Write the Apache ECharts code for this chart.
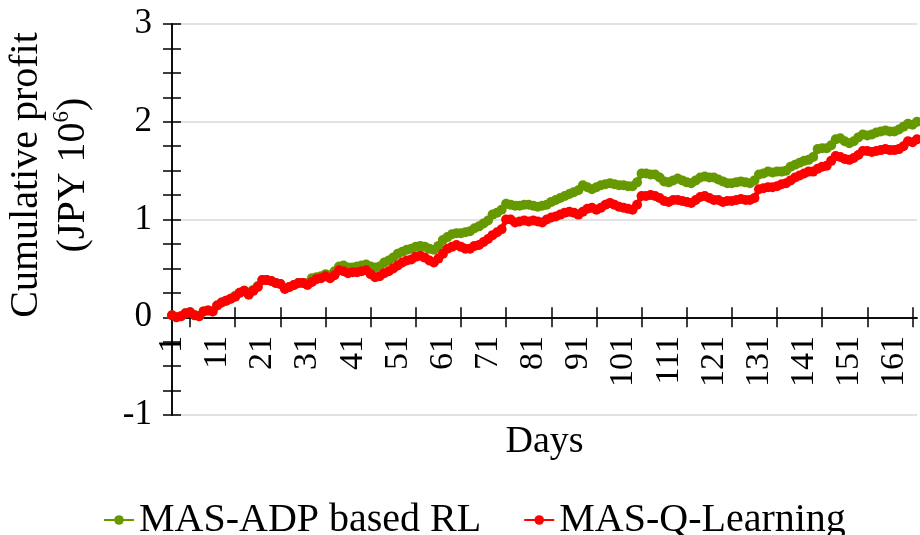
<!DOCTYPE html>
<html lang="en">
<head>
    <meta charset="UTF-8">
    <title>Cumulative profit</title>
    <script type="text/javascript" src="https://cdn.jsdelivr.net/npm/echarts@6/dist/echarts.min.js"></script>
    <style>
        html, body { margin: 0; padding: 0; background: #fff; }
        #main { width: 920px; height: 535px; }
    </style>
</head>
<body>
<div id="main"></div>
<script>
    // days 1..166
    var days = [];
    for (var i = 1; i <= 166; i++) days.push(String(i));

    var seriesNames = ['MAS-ADP based RL', 'MAS-Q-Learning'];

    // MAS-ADP based RL (green)
    var adpRL = [
        0.02, 0.00, 0.01, 0.04, 0.05, 0.02, 0.01, 0.06, 0.07, 0.06,
        0.12, 0.15, 0.17, 0.19, 0.22, 0.25, 0.27, 0.24, 0.28, 0.32,
        0.38, 0.38, 0.37, 0.35, 0.34, 0.30, 0.31, 0.33, 0.35, 0.35,
        0.35, 0.40, 0.41, 0.42, 0.44, 0.43, 0.47, 0.52, 0.53, 0.51,
        0.51, 0.52, 0.53, 0.54, 0.52, 0.51, 0.52, 0.56, 0.58, 0.61,
        0.65, 0.67, 0.69, 0.70, 0.72, 0.73, 0.72, 0.70, 0.69, 0.73,
        0.79, 0.82, 0.85, 0.86, 0.86, 0.87, 0.88, 0.91, 0.93, 0.96,
        0.99, 1.05, 1.07, 1.10, 1.16, 1.15, 1.14, 1.14, 1.15, 1.15,
        1.14, 1.13, 1.14, 1.15, 1.18, 1.20, 1.22, 1.24, 1.26, 1.28,
        1.30, 1.35, 1.33, 1.31, 1.33, 1.35, 1.36, 1.37, 1.36, 1.35,
        1.35, 1.34, 1.34, 1.38, 1.47, 1.47, 1.46, 1.46, 1.43, 1.39,
        1.38, 1.40, 1.42, 1.40, 1.38, 1.37, 1.40, 1.43, 1.44, 1.43,
        1.43, 1.41, 1.39, 1.37, 1.37, 1.38, 1.39, 1.38, 1.37, 1.40,
        1.46, 1.47, 1.49, 1.48, 1.49, 1.49, 1.50, 1.54, 1.56, 1.58,
        1.60, 1.61, 1.64, 1.72, 1.73, 1.73, 1.76, 1.82, 1.83, 1.80,
        1.78, 1.80, 1.84, 1.87, 1.86, 1.87, 1.89, 1.90, 1.91, 1.90,
        1.90, 1.92, 1.95, 1.98, 1.97, 2.00
    ];

    // MAS-Q-Learning (red)
    var qLearning = [
        0.02, 0.00, 0.01, 0.04, 0.05, 0.02, 0.01, 0.06, 0.07, 0.06,
        0.12, 0.15, 0.17, 0.19, 0.21, 0.25, 0.27, 0.23, 0.27, 0.31,
        0.38, 0.38, 0.37, 0.35, 0.34, 0.29, 0.31, 0.33, 0.35, 0.35,
        0.33, 0.36, 0.39, 0.40, 0.42, 0.40, 0.43, 0.48, 0.47, 0.45,
        0.46, 0.46, 0.47, 0.48, 0.44, 0.41, 0.42, 0.45, 0.47, 0.50,
        0.53, 0.56, 0.58, 0.59, 0.62, 0.63, 0.61, 0.58, 0.56, 0.60,
        0.65, 0.70, 0.72, 0.74, 0.72, 0.70, 0.70, 0.73, 0.74, 0.77,
        0.80, 0.84, 0.87, 0.90, 1.00, 1.00, 0.97, 0.98, 0.99, 0.98,
        0.99, 0.98, 0.97, 1.00, 1.02, 1.03, 1.05, 1.07, 1.08, 1.07,
        1.05, 1.08, 1.11, 1.12, 1.10, 1.12, 1.15, 1.17, 1.15, 1.13,
        1.12, 1.11, 1.10, 1.15, 1.24, 1.24, 1.25, 1.24, 1.22, 1.19,
        1.18, 1.20, 1.20, 1.19, 1.18, 1.17, 1.20, 1.23, 1.24, 1.22,
        1.20, 1.20, 1.18, 1.19, 1.19, 1.20, 1.21, 1.20, 1.20, 1.22,
        1.31, 1.32, 1.33, 1.33, 1.34, 1.36, 1.37, 1.40, 1.43, 1.45,
        1.47, 1.49, 1.49, 1.52, 1.54, 1.55, 1.60, 1.65, 1.64, 1.62,
        1.61, 1.63, 1.66, 1.70, 1.70, 1.69, 1.70, 1.71, 1.72, 1.71,
        1.71, 1.72, 1.75, 1.80, 1.79, 1.82
    ];

    var font = 'Liberation Serif';
    var chartDom = document.getElementById('main');
    var myChart = echarts.init(chartDom);

    var tickAt = function (index) { return index % 10 === 4; };

    var option = {
        animation: false,
        backgroundColor: '#fff',
        grid: {
            left: 172,
            right: 3,
            top: 24,
            bottom: 120,
            containLabel: false,
            outerBoundsMode: 'none'
        },
        // y axis name, two lines with superscript
        graphic: [{
            type: 'text',
            x: 50,
            y: 175,
            rotation: Math.PI / 2,
            style: {
                text: '{t|Cumulative profit}\n{t|(JPY 10}{s|6}{t|)}',
                align: 'center',
                verticalAlign: 'middle',
                fill: '#000',
                rich: {
                    t: { fontFamily: font, fontSize: 40, lineHeight: 47, fill: '#000' },
                    s: { fontFamily: font, fontSize: 23, lineHeight: 47, verticalAlign: 'top', fill: '#000' }
                }
            }
        }],
        legend: {
            top: 495,
            left: 98,
            itemGap: 42,
            itemWidth: 30,
            itemHeight: 12,
            textStyle: { fontFamily: font, fontSize: 40, color: '#000' },
            data: seriesNames
        },
        xAxis: [{
            // labels and name, kept at the bottom edge and pulled up
            type: 'category',
            data: days,
            boundaryGap: false,
            position: 'bottom',
            name: 'Days',
            nameLocation: 'middle',
            nameGap: 8,
            nameTextStyle: { fontFamily: font, fontSize: 38, color: '#000', verticalAlign: 'top' },
            axisLine: { show: false, onZero: false },
            axisTick: { show: false },
            axisLabel: {
                interval: function (index) { return index % 10 === 0; },
                rotate: 90,
                margin: -79,
                fontFamily: font,
                fontSize: 34,
                color: '#000'
            },
            splitLine: { show: false }
        }, {
            // axis line on zero, outer half of the crossing ticks
            type: 'category',
            data: days,
            boundaryGap: false,
            position: 'bottom',
            axisLine: { onZero: true, lineStyle: { color: '#000', width: 1.5 } },
            axisTick: { length: 10, lineStyle: { color: '#000', width: 1.5 }, interval: tickAt },
            axisLabel: { show: false },
            splitLine: { show: false }
        }, {
            // inner half of the crossing ticks
            type: 'category',
            data: days,
            boundaryGap: false,
            position: 'bottom',
            axisLine: { onZero: true, lineStyle: { color: '#000', width: 1.5 } },
            axisTick: { inside: true, length: 10, lineStyle: { color: '#000', width: 1.5 }, interval: tickAt },
            axisLabel: { show: false },
            splitLine: { show: false }
        }],
        yAxis: [{
            type: 'value',
            min: -1,
            max: 3,
            interval: 1,
            axisLine: { show: true, lineStyle: { color: '#000', width: 1.5 } },
            axisTick: { show: true, length: 9, lineStyle: { color: '#000', width: 1.5 } },
            minorTick: { show: true, splitNumber: 4, length: 9, lineStyle: { color: '#000', width: 1.5 } },
            axisLabel: { margin: 20, fontFamily: font, fontSize: 35, color: '#000' },
            splitLine: { show: true, lineStyle: { color: '#d9d9d9', width: 1.5 } }
        }, {
            type: 'value',
            min: -1,
            max: 3,
            interval: 1,
            position: 'left',
            axisLine: { show: true, lineStyle: { color: '#000', width: 1.5 } },
            axisTick: { show: true, inside: true, length: 9, lineStyle: { color: '#000', width: 1.5 } },
            minorTick: { show: true, splitNumber: 4, length: 9, lineStyle: { color: '#000', width: 1.5 } },
            axisLabel: { show: false },
            splitLine: { show: false }
        }],
        series: [{
            name: seriesNames[0],
            type: 'line',
            data: adpRL,
            symbol: 'circle',
            symbolSize: 10,
            showAllSymbol: true,
            color: '#669900',
            lineStyle: { width: 5, color: '#669900' },
            itemStyle: { color: '#669900' }
        }, {
            name: seriesNames[1],
            type: 'line',
            data: qLearning,
            symbol: 'circle',
            symbolSize: 10,
            showAllSymbol: true,
            color: '#ff0000',
            lineStyle: { width: 5, color: '#ff0000' },
            itemStyle: { color: '#ff0000' }
        }]
    };
    myChart.setOption(option);
</script>
</body>
</html>
